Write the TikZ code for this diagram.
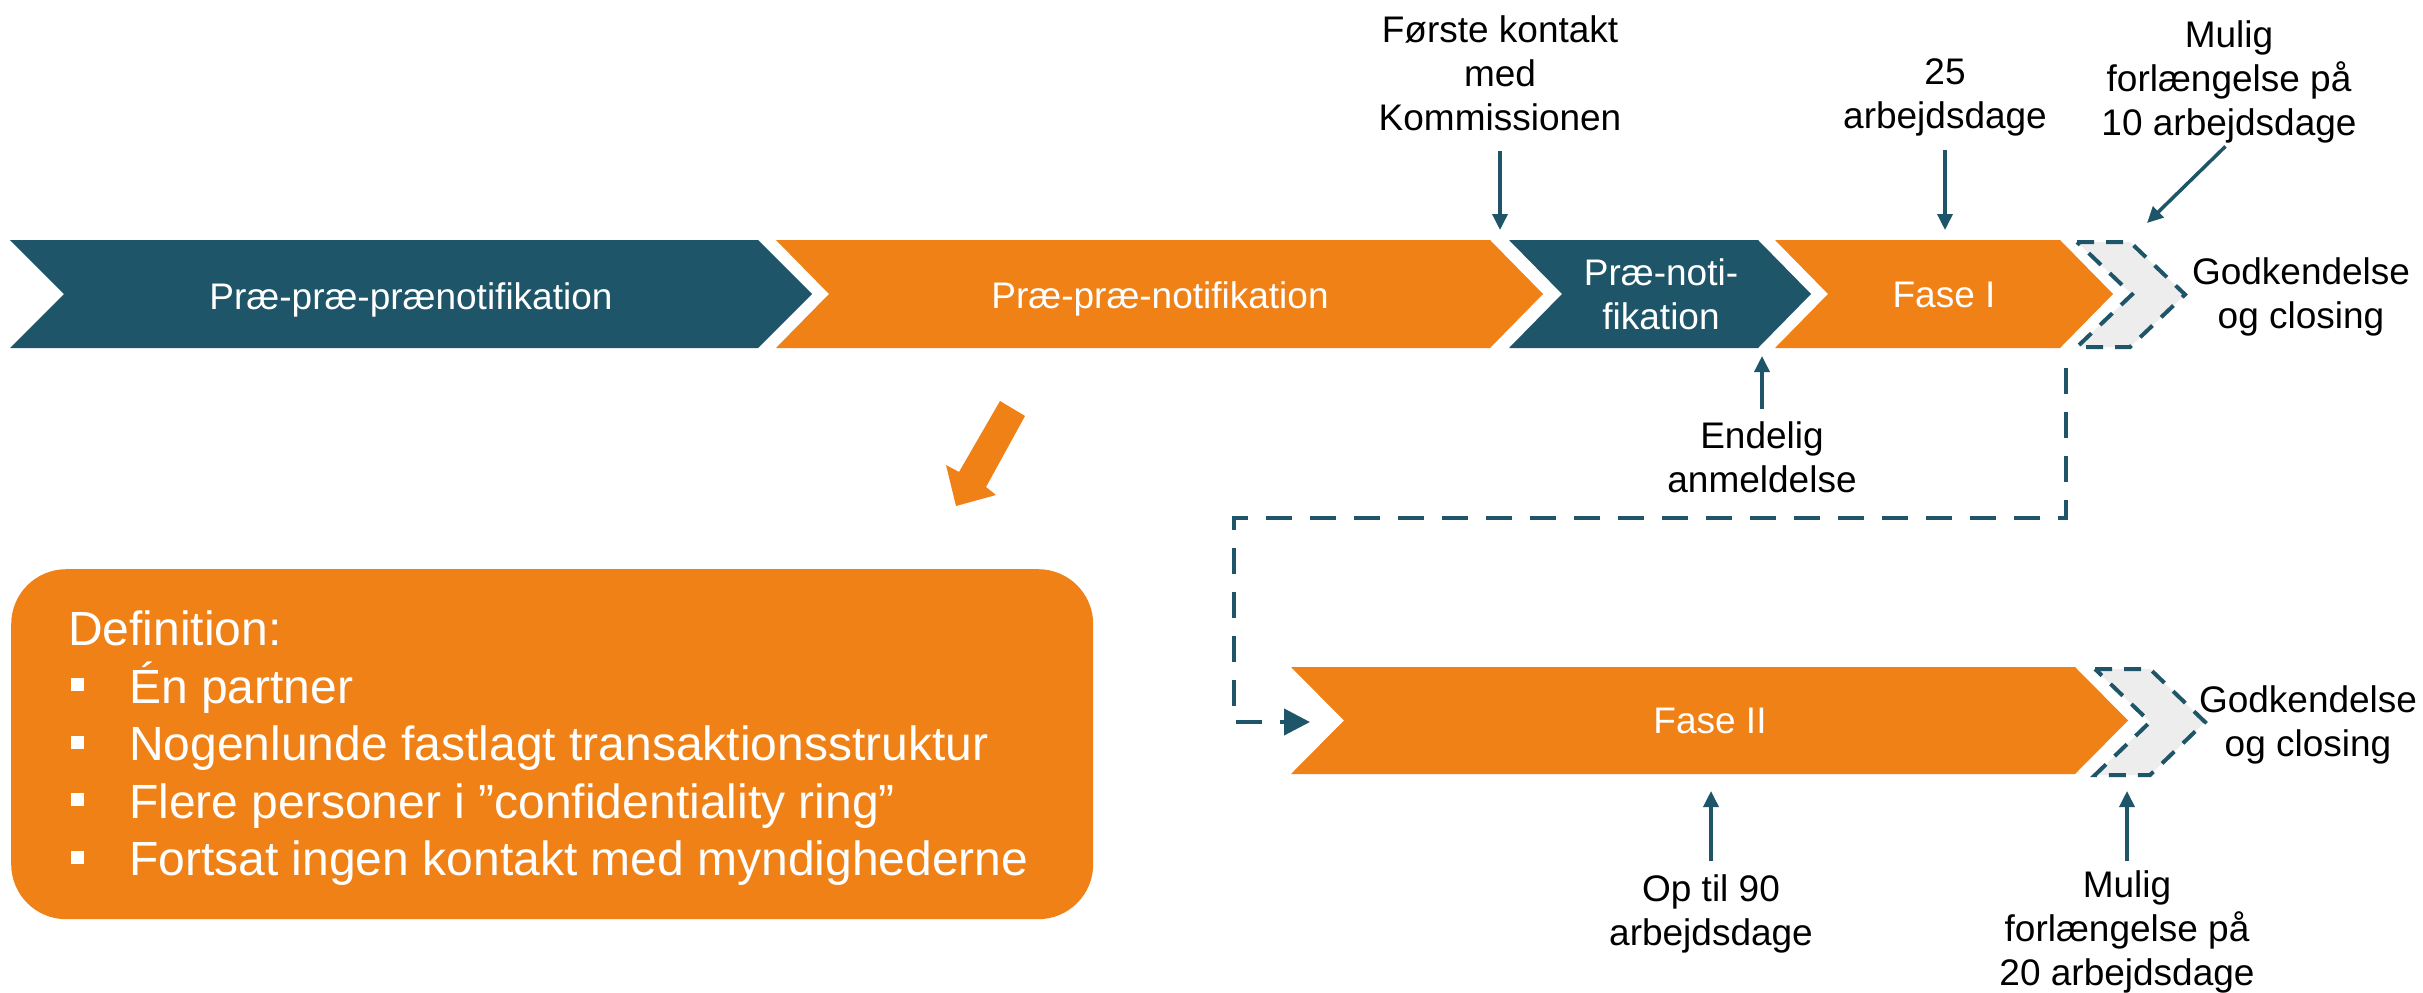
\documentclass[tikz,border=0pt]{standalone}
\usepackage{fontspec}
\setmainfont{Liberation Sans}
\usetikzlibrary{arrows.meta}
\definecolor{teal1}{HTML}{1F5568}
\definecolor{orng}{HTML}{EF8117}
\definecolor{greyf}{HTML}{EDEDED}
% style, x left (top-left corner), x right top corner, y top, y bottom, depth
\newcommand\mychev[6]{%
  \path[#1] (#2,#4) -- (#3,#4) -- ({#3+#6},{(#4+#5)/2}) -- (#3,#5) -- (#2,#5) -- ({#2+#6},{(#4+#5)/2}) -- cycle;}
\begin{document}
\begin{tikzpicture}[x=1pt,y=-1pt,
  lab/.style={font=\fontsize{37}{44}\selectfont, align=center, inner sep=0pt, anchor=north, text=black},
  chevtxt/.style={font=\fontsize{37}{44}\selectfont, align=center, inner sep=0pt, text=white},
  conn/.style={draw=teal1, line width=3.5pt, -{Triangle[length=16pt,width=15pt]}},
  dconn/.style={draw=teal1, line width=4pt, dash pattern=on 26pt off 18pt, -{Triangle[length=26pt,width=26pt]}},
  greychev/.style={fill=greyf, draw=teal1, line width=4pt, dash pattern=on 17pt off 12pt},
  defbox/.style={fill=orng, rounded corners=55pt, inner sep=0pt, anchor=north west},
  deftxt/.style={font=\fontsize{48}{57.5}\selectfont, align=left, inner sep=0pt, text=white, anchor=north west}
]
\fill[white] (0,0) rectangle (2423,993);
\useasboundingbox (0,0) rectangle (2423,993);

% top row of chevrons
\mychev{fill=teal1}{10}{758}{240}{348}{54}
\mychev{fill=orng}{776}{1490}{240}{348}{53}
\mychev{fill=teal1}{1509}{1758}{240}{348}{53}
\mychev{fill=orng}{1775}{2060}{240}{348}{53}
\mychev{greychev}{2077}{2130}{242}{347}{55}
% second row
\mychev{fill=orng}{1291}{2075}{667}{774}{53}
\mychev{greychev}{2095}{2150}{669}{775}{55}

% chevron texts
\node[chevtxt, anchor=base] (ppp) at (411,309) {Præ-præ-prænotifikation};
\node[chevtxt, anchor=base] (pp) at (1160,308) {Præ-præ-notifikation};
\node[chevtxt, anchor=north] (pn) at (1661,258) {Præ-noti-\\fikation};
\node[chevtxt, anchor=base] (fase1) at (1944,307) {Fase I};
\node[chevtxt, anchor=base] (fase2) at (1710,733) {Fase II};

% labels
\node[lab] (forste) at (1500,15) {Første kontakt\\med\\Kommissionen};
\node[lab] (dage25) at (1945,58) {25\\arbejdsdage};
\node[lab] (ext1) at (2229,20) {Mulig\\forlængelse på\\10 arbejdsdage};
\node[lab] (endelig) at (1762,421) {Endelig\\anmeldelse};
\node[lab] (op90) at (1711,874) {Op til 90\\arbejdsdage};
\node[lab] (ext2) at (2127,870) {Mulig\\forlængelse på\\20 arbejdsdage};
\node[lab] (godk1) at (2301,257) {Godkendelse\\og closing};
\node[lab] (godk2) at (2308,685) {Godkendelse\\og closing};

% arrow targets
\coordinate (kT) at (1500,230);
\coordinate (d25T) at (1945,230);
\coordinate (e1T) at (2147,223);
\coordinate (enT) at (1762,356);
\coordinate (opT) at (1711,791);
\coordinate (e2T) at (2127,791);

\draw[conn, shorten <=20pt] (forste.south) -- (kT);
\draw[conn, shorten <=14pt] (dage25.south) -- (d25T);
\draw[conn, shorten <=5pt] (ext1.south) -- (e1T);
\draw[conn, shorten <=12pt] (endelig.north) -- (enT);
\draw[conn, shorten <=13pt] (op90.north) -- (opT);
\draw[conn, shorten <=9pt] (ext2.north) -- (e2T);

% dashed route from Fase I to Fase II
\coordinate (fIout) at (2066,368);
\coordinate (c1) at (2066,518);
\coordinate (c2) at (1234,518);
\coordinate (c3) at (1234,722);
\coordinate (fIIin) at (1310,722);
\draw[dconn] (fIout) -- (c1) -- (c2) -- (c3) -- (fIIin);

% orange pointer arrow
\fill[orng] (1000,401) -- (959,472) -- (946,465) -- (956,506) -- (996,495) -- (986,487) -- (1025,416) -- cycle;

% definition box
\node[defbox, minimum width=1082pt, minimum height=350pt] (def) at (11,569) {};
\node[deftxt] (deftext) at (68,611) {Definition:\\
\hspace*{3pt}\rule[12pt]{13pt}{13pt}\hspace*{45pt}Én partner\\
\hspace*{3pt}\rule[12pt]{13pt}{13pt}\hspace*{45pt}Nogenlunde fastlagt transaktionsstruktur\\
\hspace*{3pt}\rule[12pt]{13pt}{13pt}\hspace*{45pt}Flere personer i ”confidentiality ring”\\
\hspace*{3pt}\rule[12pt]{13pt}{13pt}\hspace*{45pt}Fortsat ingen kontakt med myndighederne};
\end{tikzpicture}
\end{document}
